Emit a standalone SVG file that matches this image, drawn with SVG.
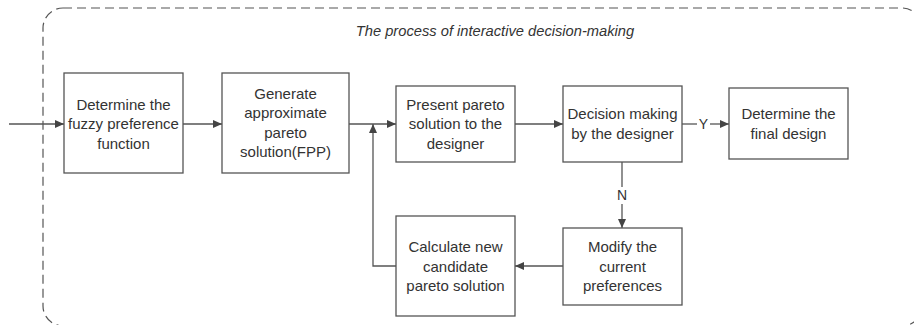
<svg xmlns="http://www.w3.org/2000/svg" width="914" height="325" viewBox="0 0 914 325">
<style>
.box{fill:#fff;stroke:#555;stroke-width:1.3}
.t{font-family:"Liberation Sans",Arial,sans-serif;font-size:15px;fill:#333;text-anchor:middle}
.c{fill:none;stroke:#555;stroke-width:1.3}
.lbl{font-family:"Liberation Sans",Arial,sans-serif;font-size:14px;fill:#333;text-anchor:middle}
</style>
<defs>
<marker id="ah" markerUnits="userSpaceOnUse" markerWidth="9" markerHeight="8" refX="9" refY="4" orient="auto">
<path d="M0,0 L9,4 L0,8 z" fill="#444"/>
</marker>
</defs>
<rect x="43" y="8" width="879" height="318" rx="20" fill="none" stroke="#555" stroke-width="1.2" stroke-dasharray="9 5"/>
<text x="495" y="36" class="t" style="font-style:italic;font-size:14.7px">The process of interactive decision-making</text>
<g id="connectors">
<line class="c" x1="9" y1="124" x2="64" y2="124" marker-end="url(#ah)"/>
<line class="c" x1="183" y1="124" x2="222" y2="124" marker-end="url(#ah)"/>
<line class="c" x1="349" y1="124" x2="396" y2="124" marker-end="url(#ah)"/>
<line class="c" x1="515" y1="124" x2="563" y2="124" marker-end="url(#ah)"/>
<line class="c" x1="682" y1="124" x2="697" y2="124"/>
<line class="c" x1="710" y1="124" x2="729" y2="124" marker-end="url(#ah)"/>
<text x="703.5" y="129" class="lbl">Y</text>
<line class="c" x1="622" y1="162" x2="622" y2="187"/>
<line class="c" x1="622" y1="204" x2="622" y2="228" marker-end="url(#ah)"/>
<text x="622" y="200" class="lbl">N</text>
<line class="c" x1="563" y1="266" x2="515" y2="266" marker-end="url(#ah)"/>
<polyline class="c" points="396,266 373,266 373,124" marker-end="url(#ah)"/>
</g>
<g id="n1">
<rect class="box" x="64" y="73" width="119" height="100"/>
<text class="t" x="123.5" y="109.5">Determine the</text>
<text class="t" x="123.5" y="129">fuzzy preference</text>
<text class="t" x="123.5" y="148.5">function</text>
</g>
<g id="n2">
<rect class="box" x="222" y="73" width="127" height="100"/>
<text class="t" x="285.5" y="98.5">Generate</text>
<text class="t" x="285.5" y="118">approximate</text>
<text class="t" x="285.5" y="137.5">pareto</text>
<text class="t" x="285.5" y="157">solution(FPP)</text>
</g>
<g id="n3">
<rect class="box" x="396" y="86" width="119" height="76"/>
<text class="t" x="455.5" y="109.5">Present pareto</text>
<text class="t" x="455.5" y="129">solution to the</text>
<text class="t" x="455.5" y="148.5">designer</text>
</g>
<g id="n4">
<rect class="box" x="563" y="86" width="119" height="76"/>
<text class="t" x="622.5" y="119">Decision making</text>
<text class="t" x="622.5" y="138.5">by the designer</text>
</g>
<g id="n5">
<rect class="box" x="729" y="88" width="119" height="71"/>
<text class="t" x="788.5" y="119">Determine the</text>
<text class="t" x="788.5" y="138.5">final design</text>
</g>
<g id="n6">
<rect class="box" x="396" y="216" width="119" height="100"/>
<text class="t" x="455.5" y="252">Calculate new</text>
<text class="t" x="455.5" y="271.5">candidate</text>
<text class="t" x="455.5" y="291">pareto solution</text>
</g>
<g id="n7">
<rect class="box" x="563" y="228" width="119" height="77"/>
<text class="t" x="622.5" y="252">Modify the</text>
<text class="t" x="622.5" y="271.5">current</text>
<text class="t" x="622.5" y="291">preferences</text>
</g>
</svg>
